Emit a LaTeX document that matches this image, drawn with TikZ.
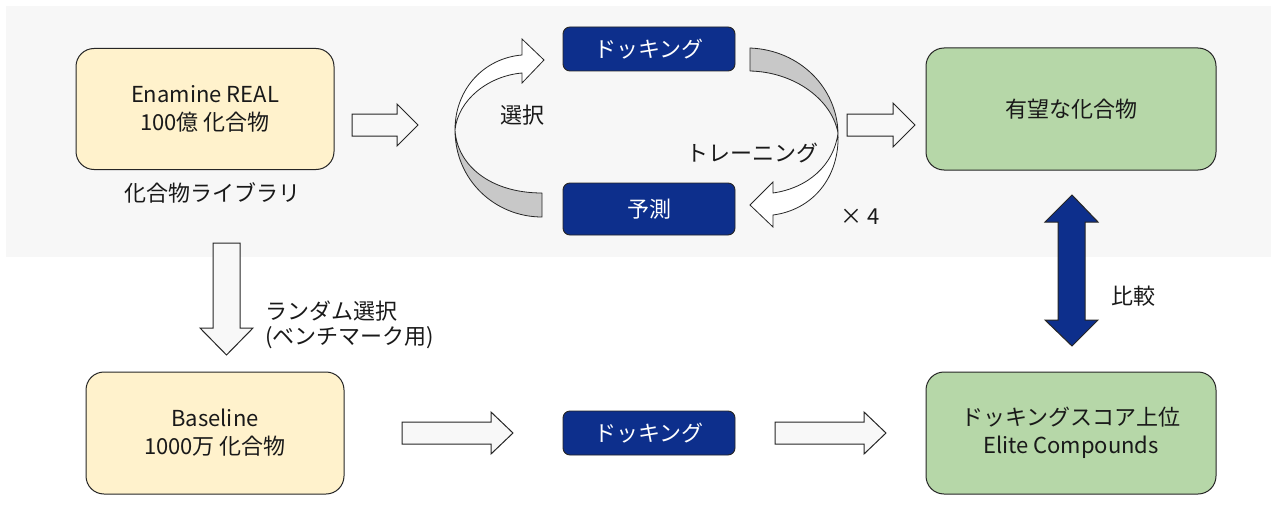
\documentclass[tikz,border=0pt]{standalone}
\usepackage{fontspec}
\setmainfont{Noto Sans CJK JP}
\definecolor{bgband}{HTML}{F7F7F7}
\definecolor{myblue}{HTML}{0D2F8C}
\definecolor{myyellow}{HTML}{FFF2CC}
\definecolor{mygreen}{HTML}{B6D7A8}
\definecolor{ribbon}{HTML}{C8C8C8}
\definecolor{arrowfill}{HTML}{F8F8F8}
\definecolor{edgecol}{HTML}{262626}
\newcommand\myfs{\fontsize{22}{28}\selectfont}
\begin{document}
\begin{tikzpicture}[x=1pt,y=-1pt,
  box/.style={draw=edgecol, line width=1pt, rounded corners=18pt, inner sep=0pt, align=center, font=\myfs, text=black!90},
  dock/.style={draw=edgecol, fill=myblue, rounded corners=7pt, text=white, line width=0.9pt, minimum width=172pt, inner sep=0pt, font=\myfs},
  blk/.style={draw=edgecol, line width=1pt, fill=arrowfill, line join=miter},
  rib/.style={draw=edgecol, line width=0.8pt, fill=ribbon, line join=round},
  ribw/.style={draw=edgecol, line width=0.8pt, fill=white, line join=miter},
  lbl/.style={font=\myfs, inner sep=0pt, text=black!90, align=left}]
\useasboundingbox (0,0) rectangle (1280,519);
\fill[white] (0,0) rectangle (1280,519);
\fill[bgband] (6,6) rectangle (1271,257);

% boxes
\node[box, fill=myyellow, minimum width=258pt, minimum height=121pt] (lib) at (205,109) {Enamine REAL\\100億 化合物};
\node[dock, minimum height=44pt] (dock1) at (649,49) {ドッキング};
\node[dock, minimum height=52pt] (pred) at (649,209) {予測};
\node[box, fill=mygreen, minimum width=290pt, minimum height=122pt] (good) at (1071,109) {有望な化合物};
\node[box, fill=myyellow, minimum width=258pt, minimum height=122pt] (base) at (215,433) {Baseline\\1000万 化合物};
\node[dock, minimum height=44pt] (dock2) at (649,433) {ドッキング};
\node[box, fill=mygreen, minimum width=290pt, minimum height=122pt] (elite) at (1071,433) {ドッキングスコア上位\\Elite Compounds};

% labels
\node[lbl] (liblbl) at (212,193) {化合物ライブラリ};
\node[lbl, anchor=west] (rnd1) at (265,311) {ランダム選択};
\node[lbl, anchor=west] (rnd2) at (265,338) {(ベンチマーク用)};
\node[lbl] (sel) at (522,115) {選択};
\node[lbl] (train) at (752,153) {トレーニング};
\node[lbl] (times) at (860,217) {× 4};
\node[lbl] (cmp) at (1133,296) {比較};

% straight block arrows
\draw[blk] (352,114)--(397,114)--(397,104)--(418,125)--(397,146)--(397,136)--(352,136)--cycle;
\draw[blk] (847,114)--(893,114)--(893,103)--(915,125)--(893,147)--(893,136)--(847,136)--cycle;
\draw[blk] (402,422)--(491,422)--(491,412)--(513,433)--(491,454)--(491,444)--(402,444)--cycle;
\draw[blk] (775,422)--(864,422)--(864,412)--(886,433)--(864,454)--(864,444)--(775,444)--cycle;
\draw[blk] (213,243)--(240,243)--(240,328)--(253,328)--(226.5,355)--(200,328)--(213,328)--cycle;
\draw[blk, fill=myblue] (1072,195)--(1098,222)--(1085,222)--(1085,320)--(1098,320)--(1072,346)--(1045,320)--(1058,320)--(1058,222)--(1045,222)--cycle;

% left curved arrow (select)
\draw[rib] (542,193) .. controls (490,193) and (457,165) .. (455,130)
  .. controls (455,180) and (495,217) .. (542,217) -- cycle;
\draw[ribw] (455,130) .. controls (455,88) and (485,58) .. (522,55) -- (522,39) -- (544,60) -- (522,83) -- (522,73)
  .. controls (488,76) and (458,100) .. (455,130) -- cycle;

% right curved arrow (training)
\draw[rib] (750,48) .. controls (800,50) and (837,88) .. (838,133)
  .. controls (832,100) and (795,72) .. (750,71) -- cycle;
\draw[ribw] (838,133) .. controls (840,178) and (812,210) .. (773,215) -- (773,227) -- (750,205) -- (773,182) -- (773,193)
  .. controls (808,188) and (834,165) .. (838,133) -- cycle;
\end{tikzpicture}
\end{document}
